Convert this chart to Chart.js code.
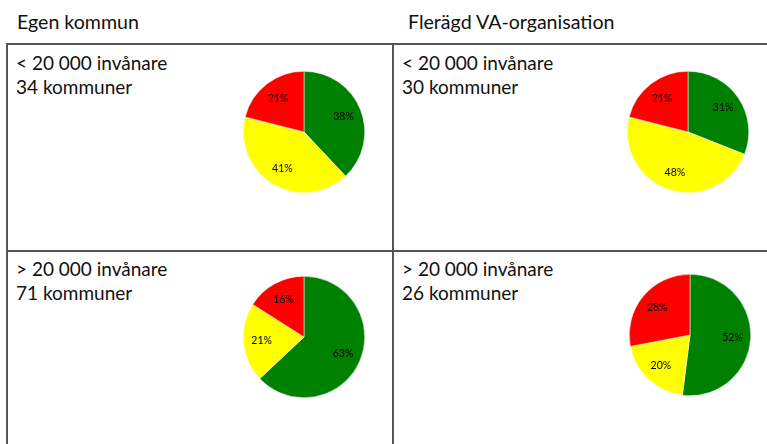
<!DOCTYPE html>
<html>
<head>
<meta charset="utf-8">
<script src="https://cdn.jsdelivr.net/npm/chart.js@4"></script>
<style>
  body { margin: 0; background: #fff; width: 767px; height: 444px; overflow: hidden; position: relative; font-family: Lato, "Open Sans", sans-serif; color: #111; }
  .line { position: absolute; background: #555; }
  .txt { position: absolute; font-size: 19px; line-height: 24px; white-space: nowrap; }
  .rubrik { font-size: 19.6px; }
  canvas { position: absolute; }
</style>
</head>
<body>
<div class="txt rubrik" style="left:17px;top:10px">Egen kommun</div>
<div class="txt rubrik" style="left:408px;top:10px">Flerägd VA-organisation</div>

<div class="line" style="left:6px;top:43px;width:761px;height:2px"></div>
<div class="line" style="left:6px;top:43px;width:2px;height:401px"></div>
<div class="line" style="left:392px;top:43px;width:2px;height:401px"></div>
<div class="line" style="left:6px;top:250px;width:761px;height:2px"></div>

<div class="txt" style="left:16px;top:51px">&lt; 20 000 invånare<br>34 kommuner</div>
<div class="txt" style="left:402px;top:51px">&lt; 20 000 invånare<br>30 kommuner</div>
<div class="txt" style="left:16px;top:257px">&gt; 20 000 invånare<br>71 kommuner</div>
<div class="txt" style="left:402px;top:257px">&gt; 20 000 invånare<br>26 kommuner</div>

<canvas id="c1" width="124" height="124" style="left:242px;top:70px"></canvas>
<canvas id="c2" width="124" height="124" style="left:626px;top:70px"></canvas>
<canvas id="c3" width="124" height="124" style="left:242px;top:275px"></canvas>
<canvas id="c4" width="124" height="124" style="left:628px;top:273px"></canvas>

<script>
// order: grön, gul, röd (medurs från kl 12)
const farger = ["#008000", "#ffff00", "#ff0000"];
const egenLiten = [38, 41, 21];
const flerLiten = [31, 48, 21];
const egenStor = [63, 21, 16];
const flerStor = [52, 20, 28];

const procentPlugin = {
  id: "procent",
  afterDatasetsDraw(chart) {
    const ctx = chart.ctx;
    const meta = chart.getDatasetMeta(0);
    const data = chart.data.datasets[0].data;
    ctx.save();
    ctx.font = "10.5px Lato, sans-serif";
    ctx.fillStyle = "#000";
    ctx.textAlign = "center";
    ctx.textBaseline = "middle";
    meta.data.forEach(function (arc, i) {
      const p = arc.getProps(["x", "y", "startAngle", "endAngle", "outerRadius"], true);
      const mitt = (p.startAngle + p.endAngle) / 2;
      const r = p.outerRadius * 0.7;
      ctx.fillText(data[i] + "%", p.x + Math.cos(mitt) * r, p.y + Math.sin(mitt) * r);
    });
    ctx.restore();
  }
};

function rita(id, varden) {
  new Chart(document.getElementById(id), {
    type: "pie",
    data: {
      labels: ["Grön", "Gul", "Röd"],
      datasets: [{
        data: varden,
        backgroundColor: farger,
        borderColor: "#fff",
        borderWidth: 0.5,
      }],
    },
    options: {
      responsive: false,
      animation: false,
      layout: { padding: 1 },
      plugins: { legend: { display: false }, tooltip: { enabled: false } },
    },
    plugins: [procentPlugin],
  });
}

rita("c1", egenLiten);
rita("c2", flerLiten);
rita("c3", egenStor);
rita("c4", flerStor);
</script>
</body>
</html>
